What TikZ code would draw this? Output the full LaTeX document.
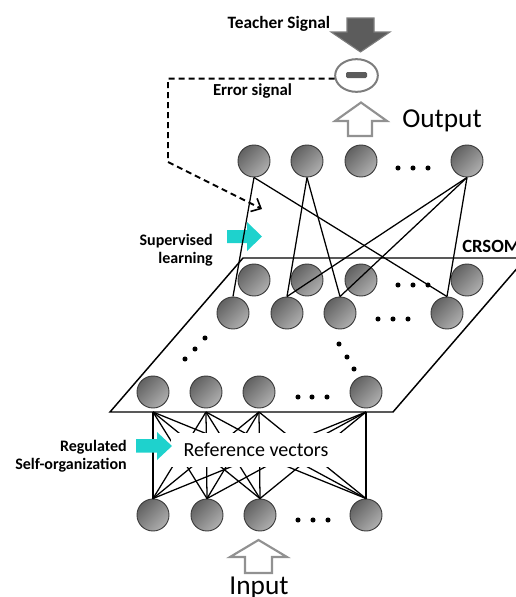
\documentclass[tikz,border=0pt]{standalone}
\usepackage{fontspec}
\setmainfont{Carlito}
\usetikzlibrary{arrows.meta,calc,shapes.geometric}
\definecolor{tealA}{RGB}{30,210,205}
\definecolor{ndark}{RGB}{98,98,98}
\definecolor{nlight}{RGB}{175,175,175}
\definecolor{nedge}{RGB}{60,60,60}
\definecolor{hollowgray}{RGB}{145,145,145}
\definecolor{tdark}{RGB}{92,92,92}
\definecolor{tedge}{RGB}{125,125,125}
\begin{document}
\begin{tikzpicture}[x=0.75pt,y=-0.75pt,
  unit/.style={circle, draw=nedge, line width=0.7pt, minimum size=24pt, inner sep=0pt,
    top color=ndark, bottom color=nlight, shading angle=45},
  conn/.style={line width=0.95pt, black},
  dotm/.style={fill=black},
  hollow/.style={draw=hollowgray, line width=1.6pt, fill=white, line join=miter},
  tealarrow/.style={fill=tealA, draw=none},
  lab/.style={font=\bfseries\fontsize{12}{14}\selectfont, inner sep=0pt},
  big/.style={font=\fontsize{20.5}{23}\selectfont, inner sep=0pt}
]
\useasboundingbox (0,0) rectangle (516,597);

% ---- teacher signal ----
\node[lab, font=\bfseries\fontsize{13}{15}\selectfont, anchor=base] (teach) at (279,28) {Teacher Signal};
\filldraw[fill=tdark, draw=tedge, line width=0.8pt, line join=miter]
  (347,18) -- (374,18) -- (374,32) -- (390,32) -- (360.5,52) -- (331,32) -- (347,32) -- cycle;

% error node
\node[ellipse, draw=tedge, line width=1.5pt, minimum width=32pt, minimum height=24.5pt, inner sep=0pt] (err) at (356.5,75.5) {};
\fill[tdark, rounded corners=1pt] (346,72) rectangle (367,78);
\node[lab, font=\bfseries\fontsize{12.6}{15}\selectfont, anchor=base] (errlab) at (252.5,95) {Error signal};

% dashed error path
\coordinate (dc) at (168,162);
\coordinate (dtip) at (262,209);
\draw[line width=1.4pt, dash pattern=on 4.5pt off 3pt, -{Straight Barb[length=6pt,width=11pt,line width=1.2pt]}]
  (err.188) -| (dc) -- (dtip);

% output arrow
\draw[hollow] (348,136) -- (348,121) -- (335,121) -- (361,102.5) -- (387,121) -- (372,121) -- (372,136) -- cycle;
\node[big, anchor=base west] (outlab) at (402,127) {Output};

% ---- plane ----
\draw[line width=1.1pt, line join=miter] (243,258) -- (526,258) -- (393,412) -- (110,412) -- cycle;
\node[lab, font=\bfseries\fontsize{14}{16}\selectfont, anchor=base west] (crsom) at (462,252) {CRSOM};

% supervised learning arrow (behind connectors)
\fill[tealarrow] (227,230) -- (247,230) -- (247,222) -- (262,236.5) -- (247,251) -- (247,243) -- (227,243) -- cycle;
\node[lab, anchor=base east] (sup1) at (213,245) {Supervised};
\node[lab, anchor=base east] (sup2) at (213,263) {learning};

% ---- units ----
\foreach \n/\x in {1/254,2/307,3/361,4/467} {\node[unit] (o\n) at (\x,161) {};}
\foreach \n/\x in {1/254,2/307,3/361,4/467} {\node[unit] (a\n) at (\x,280) {};}
\foreach \n/\x in {1/233,2/287,3/340,4/447} {\node[unit] (b\n) at (\x,313) {};}
\foreach \n/\x in {1/153,2/206,3/259,4/366} {\node[unit] (c\n) at (\x,392) {};}
\foreach \n/\x in {1/153,2/207,3/260,4/366} {\node[unit] (d\n) at (\x,515) {};}

% dots
\foreach \x in {398,413,428} {\fill[dotm] (\x,168) circle (1.9pt); \fill[dotm] (\x,285) circle (1.9pt);}
\foreach \x in {378,393,408} {\fill[dotm] (\x,319) circle (1.9pt);}
\foreach \x in {298,312,327} {\fill[dotm] (\x,397) circle (1.9pt);}
\foreach \x in {298,313,328} {\fill[dotm] (\x,520) circle (1.9pt);}
\foreach \p in {(185,359),(195,349),(205,338),(339,344),(347,357),(354,369)} {\fill[dotm] \p circle (1.9pt);}

% top connectors
\draw[conn] (o1.south) -- (b1.north);
\draw[conn] (o1.south) -- (b4.north);
\draw[conn] (o2.south) -- (b2.north);
\draw[conn] (o2.south) -- (b3.north);
\draw[conn] (o4.south) -- (b2.north);
\draw[conn] (o4.south) -- (b3.north);
\draw[conn] (o4.south) -- (b4.north);

% bottom connectors (full)
\foreach \i in {1,...,4} {\coordinate (e\i) at (c\i |- 0,412);}
\foreach \i in {1,...,4} {\foreach \j in {1,...,4} {\draw[conn] (e\i) -- (d\j.north);}}

% reference vectors label
\node[fill=white, minimum width=127.5pt, minimum height=25pt, inner sep=0pt,
  font=\fontsize{15}{17}\selectfont] (ref) at (256,450) {Reference vectors};

% regulated arrow (on top)
\fill[tealarrow] (136,439) -- (157,439) -- (157,432) -- (172,446) -- (157,460) -- (157,452.5) -- (136,452.5) -- cycle;
\node[lab, anchor=base east] (reg1) at (127,451) {Regulated};
\node[lab, anchor=base east] (reg2) at (127,469) {Self-organization};

% input arrow
\draw[hollow] (245,573) -- (245,557) -- (230,557) -- (258.5,540) -- (287,557) -- (272,557) -- (272,573) -- cycle;
\node[big, anchor=base] (inlab) at (259,594) {Input};
\end{tikzpicture}
\end{document}
